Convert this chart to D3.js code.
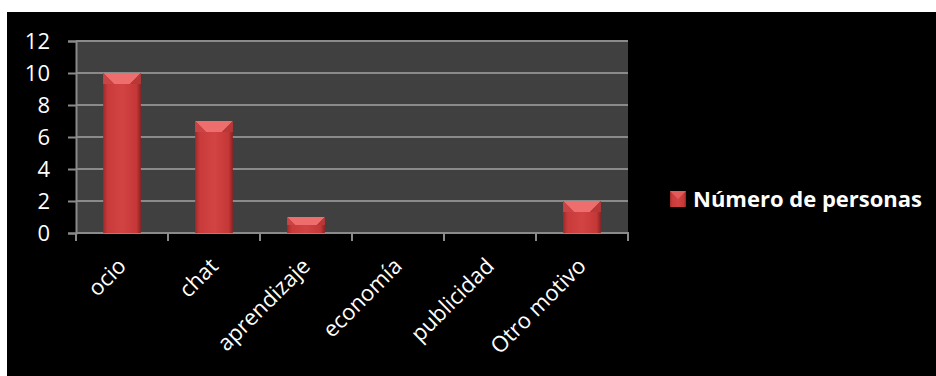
<!DOCTYPE html>
<meta charset="utf-8">
<style>
  body{ margin:0; background:#fff; }
  text{ font-family: "Open Sans", sans-serif; fill:#fff; }
</style>
<svg width="936" height="376"></svg>
<script src="https://d3js.org/d3.v7.min.js"></script>
<script>
  // data
  const categories = ['ocio', 'chat', 'aprendizaje', 'economía', 'publicidad', 'Otro motivo']
  const values = [10, 7, 1, 0, 0, 2]
  const yTicks = [0, 2, 4, 6, 8, 10, 12]
  const seriesName = 'Número de personas'

  const svg = d3.select('svg')
  const plot = {left: 76, top: 41, right: 628, bottom: 233}

  // black panel
  svg.append('rect').attr('x', 7).attr('y', 12).attr('width', 929).attr('height', 364).attr('fill', '#000')

  const defs = svg.append('defs')
  const grad = defs.append('linearGradient').attr('id', 'barGrad')
  grad.append('stop').attr('offset', '0%').attr('stop-color', '#9e2a2a')
  grad.append('stop').attr('offset', '12%').attr('stop-color', '#c93a3a')
  grad.append('stop').attr('offset', '50%').attr('stop-color', '#d24343')
  grad.append('stop').attr('offset', '88%').attr('stop-color', '#c63838')
  grad.append('stop').attr('offset', '100%').attr('stop-color', '#8e2222')

  const x = d3.scaleBand().domain(categories).range([plot.left, plot.right]).paddingInner(0.59).paddingOuter(0.295)
  const xt = d3.scaleBand().domain(categories).range([plot.left, plot.right])
  const y = d3.scaleLinear().domain([0, 12]).range([plot.bottom, plot.top])

  svg.append('rect').attr('x', plot.left).attr('y', plot.top)
    .attr('width', plot.right - plot.left).attr('height', plot.bottom - plot.top).attr('fill', '#404040')

  // gridlines
  svg.append('g').selectAll('line').data(yTicks.filter(d => d > 0)).join('line')
    .attr('x1', plot.left).attr('x2', plot.right)
    .attr('y1', d => y(d)).attr('y2', d => y(d))
    .attr('stroke', '#8a8a8a').attr('stroke-width', 2)

  // y axis
  const yAxis = svg.append('g').attr('transform', 'translate(' + plot.left + ',0)')
    .call(d3.axisLeft(y).tickValues(yTicks).tickSize(8).tickPadding(18))
  yAxis.select('.domain').attr('stroke', '#8a8a8a').attr('stroke-width', 2)
  yAxis.selectAll('line').attr('stroke', '#8a8a8a').attr('stroke-width', 2)
  yAxis.selectAll('text').attr('fill', '#fff').style('font-size', '22px').style('font-family', '"Open Sans", sans-serif')

  // x axis
  const xAxis = svg.append('g').attr('transform', 'translate(0,' + plot.bottom + ')')
  xAxis.append('line').attr('x1', plot.left).attr('x2', plot.right + 1).attr('stroke', '#8a8a8a').attr('stroke-width', 2)
  xAxis.selectAll('.tk').data(categories.concat(['end'])).join('line')
    .attr('x1', (d, i) => plot.left + i * xt.step()).attr('x2', (d, i) => plot.left + i * xt.step())
    .attr('y1', 0).attr('y2', 8).attr('stroke', '#8a8a8a').attr('stroke-width', 2)
  xAxis.selectAll('text').data(categories).join('text')
    .attr('transform', d => 'translate(' + (xt(d) + xt.bandwidth() / 2) + ',29) rotate(-45)')
    .attr('text-anchor', 'end').attr('dy', '0.35em')
    .style('font-size', '22px').text(d => d)

  // bars
  const barData = values.map((v, i) => ({c: categories[i], v})).filter(d => d.v > 0)
  const bars = svg.append('g').selectAll('g').data(barData).join('g')
  bars.append('rect')
    .attr('x', d => x(d.c)).attr('y', d => y(d.v))
    .attr('width', x.bandwidth()).attr('height', d => y(0) - y(d.v))
    .attr('fill', 'url(#barGrad)')
  // bevel on top
  const bev = d => Math.min(11, (y(0) - y(d.v)) / 2)
  bars.append('path')
    .attr('d', d => {
      const x0 = x(d.c), x1 = x0 + x.bandwidth(), t = y(d.v), b = bev(d)
      return 'M' + x0 + ',' + t + 'L' + x1 + ',' + t + 'L' + (x1 - b) + ',' + (t + b) + 'L' + (x0 + b) + ',' + (t + b) + 'Z'
    })
    .attr('fill', '#ee6e6e')
  bars.append('path')
    .attr('d', d => {
      const x0 = x(d.c), t = y(d.v), b = bev(d)
      return 'M' + x0 + ',' + t + 'L' + (x0 + b) + ',' + (t + b) + 'L' + x0 + ',' + (t + b) + 'Z'
    })
    .attr('fill', '#c94545')
  bars.append('path')
    .attr('d', d => {
      const x1 = x(d.c) + x.bandwidth(), t = y(d.v), b = bev(d)
      return 'M' + x1 + ',' + t + 'L' + (x1 - b) + ',' + (t + b) + 'L' + x1 + ',' + (t + b) + 'Z'
    })
    .attr('fill', '#b83838')

  // legend
  const lg = svg.append('g').attr('transform', 'translate(670,191)')
  lg.append('rect').attr('width', 16).attr('height', 16).attr('fill', 'url(#barGrad)')
  lg.append('path').attr('d', 'M0,0L16,0L8,8Z').attr('fill', '#e25a5a')
  lg.append('text').attr('x', 23).attr('y', 16).style('font-size', '22px').style('font-weight', 'bold').text(seriesName)
</script>
